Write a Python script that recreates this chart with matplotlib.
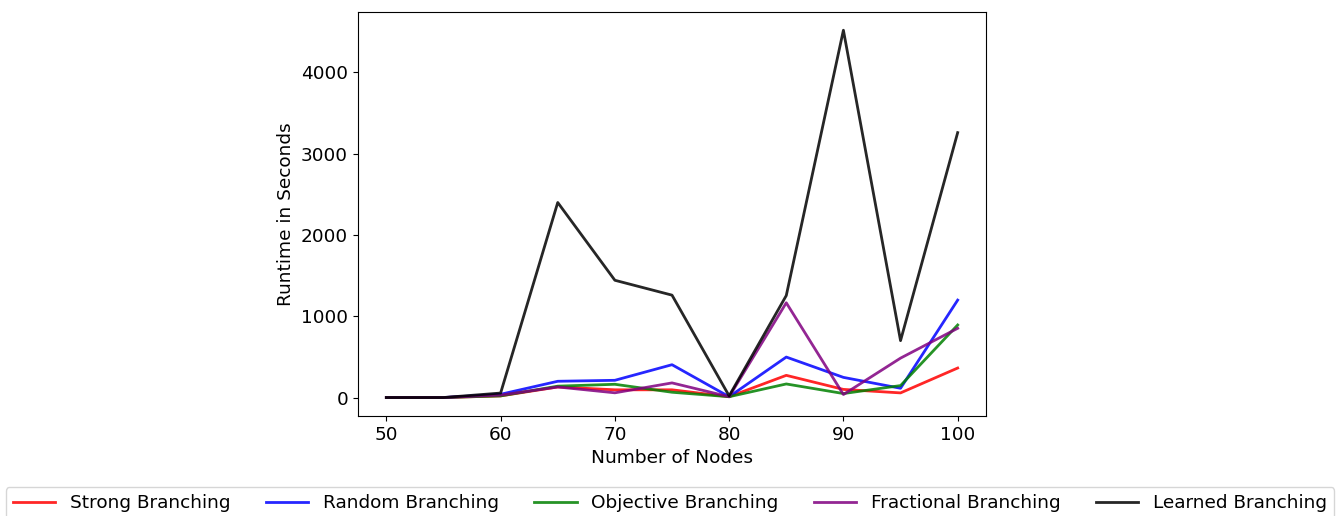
#Libraries
import matplotlib
matplotlib.use('Agg')
import matplotlib.pyplot as plt

#Data
nodes = [50, 55, 60, 65, 70, 75, 80, 85, 90, 95, 100]
strong = [0, 0, 20, 130, 95, 95, 10, 273, 100, 57, 363]
random_b = [0, 0, 40, 200, 212, 404, 10, 498, 248, 114, 1199]
objective = [0, 0, 20, 140, 163, 65, 10, 167, 49, 147, 893]
fractional = [0, 0, 30, 130, 58, 180, 10, 1166, 37, 485, 852]
learned = [0, 0, 55, 2400, 1443, 1260, 20, 1255, 4520, 700, 3260]

labels = ['Strong Branching', 'Random Branching', 'Objective Branching',
          'Fractional Branching', 'Learned Branching']
colors = ['red', 'blue', 'green', 'purple', 'black']
series = [strong, random_b, objective, fractional, learned]

#Plot
plt.rcParams['font.size'] = 13.3
fig = plt.figure(figsize=(13.4, 5.16), dpi=100)
ax = fig.add_axes([0.267, 0.194, 0.469, 0.783])

for values, label, color in zip(series, labels, colors):
    ax.plot(nodes, values, color=color, alpha=0.85, linewidth=2, label=label)

ax.set_xlabel('Number of Nodes')
ax.set_ylabel('Runtime in Seconds')
ax.set_xticks([50, 60, 70, 80, 90, 100])

fig.legend(loc='upper center', bbox_to_anchor=(0.5, 0.056), ncol=5,
           handlelength=2.3, columnspacing=1.9, borderaxespad=0)

fig.savefig('out.png', dpi=100)
